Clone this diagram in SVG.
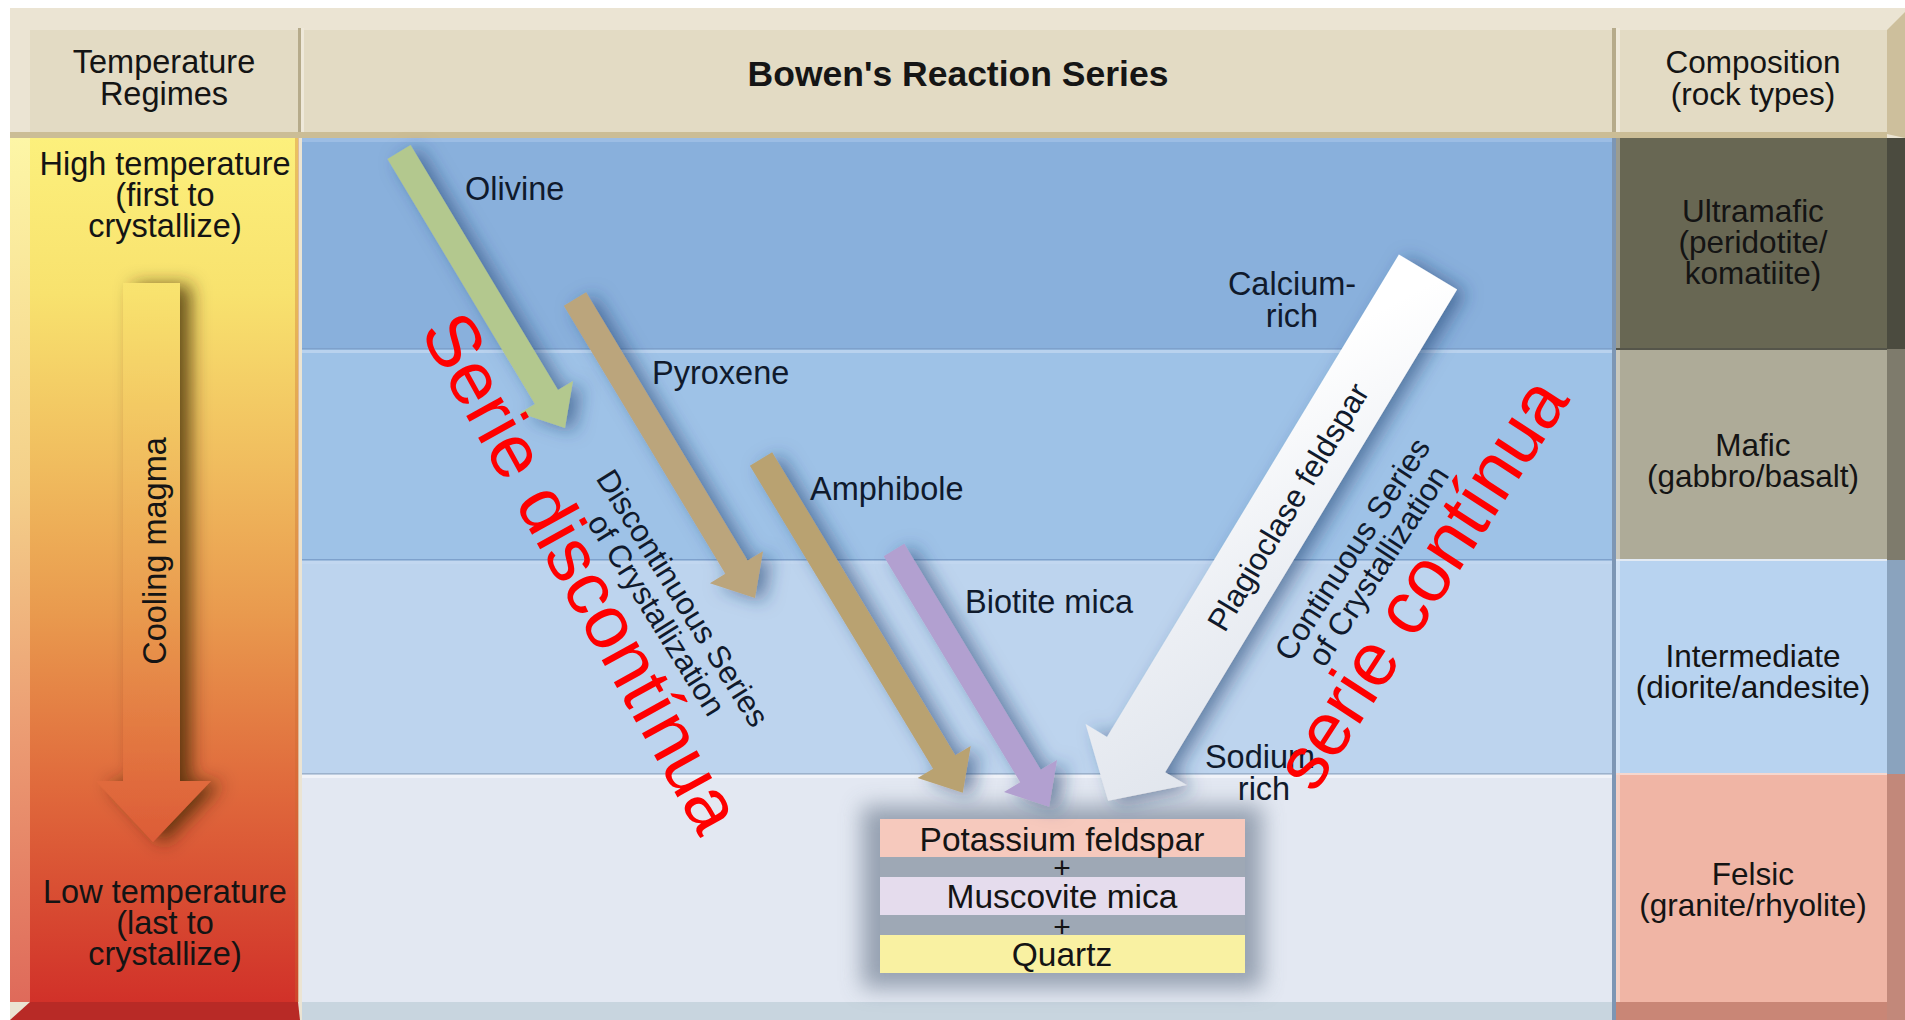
<svg xmlns="http://www.w3.org/2000/svg" width="1905" height="1020" viewBox="0 0 1905 1020">
<defs>
<style>
.t{font-family:"Liberation Sans",Arial,Helvetica,sans-serif;font-size:31.5px;fill:#141414}
.l{font-size:32.5px}
.c3{font-size:32.5px}
.b3{font-size:33.5px}
.m{text-anchor:middle}
.n{fill:#101a2c}
.ttl{font-family:"Liberation Sans",Arial,Helvetica,sans-serif;font-size:35.5px;font-weight:bold;fill:#151515;text-anchor:middle}
.red{font-family:"Liberation Sans",Arial,Helvetica,sans-serif;font-size:75px;fill:#ff0000;text-anchor:middle}
.hdr{fill:#e3dbc4}
.rowline{fill:#7ea1cc}
.rowlite{fill:#c4d9f1;opacity:.7}
</style>
<linearGradient id="gL" gradientUnits="userSpaceOnUse" x1="0" y1="138" x2="0" y2="1002">
<stop offset="0" stop-color="#fcf07c"/>
<stop offset=".18" stop-color="#f8e26e"/>
<stop offset=".38" stop-color="#f0bc5e"/>
<stop offset=".55" stop-color="#e99a4e"/>
<stop offset=".75" stop-color="#e06a3c"/>
<stop offset="1" stop-color="#d13129"/>
</linearGradient>
<linearGradient id="gL2" gradientUnits="userSpaceOnUse" x1="0" y1="138" x2="0" y2="1002">
<stop offset="0" stop-color="#fdf6a6"/>
<stop offset=".4" stop-color="#f4d08a"/>
<stop offset=".7" stop-color="#eb9a72"/>
<stop offset="1" stop-color="#df6a5a"/>
</linearGradient>
<linearGradient id="gW" gradientUnits="userSpaceOnUse" x1="1428" y1="272" x2="1108" y2="801">
<stop offset="0" stop-color="#d6dce6"/>
<stop offset=".5" stop-color="#eceff4"/>
<stop offset=".8" stop-color="#ffffff"/>
<stop offset="1" stop-color="#ffffff"/>
</linearGradient>
<filter id="sh" x="-25%" y="-25%" width="150%" height="150%">
<feGaussianBlur in="SourceAlpha" stdDeviation="9"/>
<feOffset dx="9" dy="3" result="b"/>
<feFlood flood-color="#1d3b6a" flood-opacity="0.55"/>
<feComposite in2="b" operator="in"/>
<feMerge><feMergeNode/><feMergeNode in="SourceGraphic"/></feMerge>
</filter>
<filter id="shB" x="-60%" y="-10%" width="220%" height="120%">
<feGaussianBlur in="SourceAlpha" stdDeviation="9"/>
<feOffset dx="11" dy="2" result="b"/>
<feFlood flood-color="#3a2406" flood-opacity="0.75"/>
<feComposite in2="b" operator="in"/>
<feMerge><feMergeNode/><feMergeNode in="SourceGraphic"/></feMerge>
</filter>
<filter id="blur" x="-20%" y="-30%" width="140%" height="160%">
<feGaussianBlur stdDeviation="11"/>
</filter>
</defs>

<!-- frame and background -->
<g id="background">
<rect width="1905" height="1020" fill="#ffffff"/>
<rect x="10" y="8" width="1895" height="1012" fill="#ebe4d3"/>
<rect class="hdr" x="30" y="30" width="268" height="104"/>
<rect class="hdr" x="304" y="30" width="1308" height="104"/>
<rect class="hdr" x="1620" y="30" width="267" height="104"/>
<rect x="298" y="28" width="3" height="108" fill="#b6ab8b"/>
<rect x="301" y="28" width="3" height="108" fill="#efe9da"/>
<rect x="1612" y="28" width="4" height="108" fill="#b6ab8b"/>
<rect x="1616" y="28" width="4" height="108" fill="#efe9da"/>
<polygon points="1887,30 1905,12 1905,138 1887,134" fill="#cdbf9c"/>
<rect x="10" y="132" width="1877" height="6" fill="#cbbd96"/>

<!-- left column -->
<rect x="30" y="138" width="268" height="864" fill="url(#gL)"/>
<rect x="10" y="138" width="20" height="864" fill="url(#gL2)"/>
<rect x="295" y="138" width="4" height="864" fill="#c86a30" opacity=".35"/>
<polygon points="10,1020 30,1002 298,1002 300,1020" fill="#b82a26"/>

<!-- central rows -->
<rect x="302" y="138" width="1311" height="211" fill="#89b0dc"/>
<rect x="302" y="349" width="1311" height="211" fill="#9ec2e7"/>
<rect x="302" y="560" width="1311" height="214" fill="#bdd4ee"/>
<rect x="302" y="774" width="1311" height="228" fill="#e3e8f2"/>
<rect x="302" y="1002" width="1311" height="18" fill="#c8d5df"/>
<rect class="rowline" x="302" y="348" width="1311" height="1.5"/>
<rect class="rowlite" x="302" y="350" width="1311" height="3"/>
<rect class="rowline" x="302" y="559" width="1311" height="1.5"/>
<rect class="rowlite" x="302" y="561" width="1311" height="3"/>
<rect x="302" y="773" width="1311" height="1.5" fill="#9cb2cc"/>
<rect x="302" y="775" width="1311" height="3" fill="#f2f5fa" opacity=".8"/>
<rect x="302" y="138" width="1311" height="4" fill="#a9c6ea" opacity=".6"/>

<!-- right column -->
<rect x="1612" y="138" width="4" height="882" fill="#7d96b4"/>
<rect x="1616" y="138" width="271" height="211" fill="#686753"/>
<rect x="1616" y="349" width="271" height="211" fill="#aeab98"/>
<rect x="1616" y="560" width="271" height="214" fill="#b8d3f0"/>
<rect x="1616" y="774" width="271" height="228" fill="#f0b5a5"/>
<rect x="1616" y="1002" width="271" height="18" fill="#c98676"/>
<rect x="1616" y="138" width="4" height="864" fill="#ffffff" opacity=".35"/>
<rect x="1887" y="138" width="18" height="211" fill="#4b4b3f"/>
<rect x="1887" y="349" width="18" height="211" fill="#7e7b6c"/>
<rect x="1887" y="560" width="18" height="214" fill="#8aa3be"/>
<rect x="1887" y="774" width="18" height="246" fill="#c2887a"/>
<rect x="1616" y="348" width="271" height="2" fill="#55554a"/>
<rect x="1616" y="559" width="271" height="2" fill="#e2eaf4"/>
<rect x="1616" y="773" width="271" height="2" fill="#f6d7ce"/>
</g>

<!-- header labels -->
<g id="header-temperature">
<text class="t l m" x="164" y="73">Temperature</text>
<text class="t l m" x="164" y="105">Regimes</text>
</g>
<g id="header-bowen">
<text class="ttl" x="958" y="86">Bowen's Reaction Series</text>
</g>
<g id="header-composition">
<text class="t m" x="1753" y="73">Composition</text>
<text class="t m" x="1753" y="105">(rock types)</text>
</g>

<!-- temperature column -->
<g id="temp-high">
<text class="t l m" x="165" y="175">High temperature</text>
<text class="t l m" x="165" y="206">(first to</text>
<text class="t l m" x="165" y="237">crystallize)</text>
</g>
<g id="cooling-magma">
<g filter="url(#shB)">
<path d="M123,283 H180 V781 H211 L153,842 L96,781 H123 Z" fill="url(#gL)"/>
</g>
<text class="t l m" transform="translate(166,551) rotate(-90)" x="0" y="0">Cooling magma</text>
</g>
<g id="temp-low">
<text class="t l m" x="165" y="903">Low temperature</text>
<text class="t l m" x="165" y="934">(last to</text>
<text class="t l m" x="165" y="965">crystallize)</text>
</g>

<!-- composition column -->
<g id="comp-ultramafic">
<text class="t m" x="1753" y="222">Ultramafic</text>
<text class="t m" x="1753" y="253">(peridotite/</text>
<text class="t m" x="1753" y="284">komatiite)</text>
</g>
<g id="comp-mafic">
<text class="t m" x="1753" y="456">Mafic</text>
<text class="t m" x="1753" y="487">(gabbro/basalt)</text>
</g>
<g id="comp-intermediate">
<text class="t m" x="1753" y="667">Intermediate</text>
<text class="t m" x="1753" y="698">(diorite/andesite)</text>
</g>
<g id="comp-felsic">
<text class="t m" x="1753" y="885">Felsic</text>
<text class="t m" x="1753" y="916">(granite/rhyolite)</text>
</g>

<!-- end products -->
<g id="end-products">
<rect x="862" y="806" width="400" height="182" fill="#7c899b" opacity=".75" filter="url(#blur)"/>
<rect x="880" y="855" width="365" height="82" fill="#9ea8b5"/>
<rect x="880" y="819" width="365" height="38" fill="#f6c9bd"/>
<rect x="880" y="877" width="365" height="38" fill="#e5dced"/>
<rect x="880" y="935" width="365" height="38" fill="#f9f1a2"/>
<text class="t b3 m" x="1062" y="851">Potassium feldspar</text>
<text class="t m" x="1062" y="878" style="font-size:30px">+</text>
<text class="t b3 m" x="1062" y="908">Muscovite mica</text>
<text class="t m" x="1062" y="937" style="font-size:30px">+</text>
<text class="t b3 m" x="1062" y="966">Quartz</text>
</g>

<!-- series arrows -->
<g id="connectors">
<g filter="url(#sh)"><path id="arrow-olivine" transform="translate(399,152) rotate(58.97)" d="M0,-13.5 H286 V-31 L322,0 L286,31 V13.5 H0 Z" fill="#b3c88e"/></g>
<g filter="url(#sh)"><path id="arrow-pyroxene" transform="translate(575,299) rotate(58.95)" d="M0,-13 H313 V-31 L349,0 L313,31 V13 H0 Z" fill="#bba57c"/></g>
<g filter="url(#sh)"><path id="arrow-amphibole" transform="translate(761,459) rotate(58.84)" d="M0,-13 H354 V-31 L390,0 L354,31 V13 H0 Z" fill="#b9a271"/></g>
<g filter="url(#sh)"><path id="arrow-biotite" transform="translate(894,550) rotate(58.87)" d="M0,-12 H264 V-31 L300,0 L264,31 V12 H0 Z" fill="#b2a0d0"/></g>
<g filter="url(#sh)"><path id="arrow-plagioclase" transform="translate(1428,272) rotate(121.17)" d="M0,-34 H564 V-59 L618,0 L564,59 V34 H0 Z" fill="url(#gW)"/></g>
</g>

<!-- mineral labels -->
<g id="label-olivine"><text class="t c3 n" x="465" y="200">Olivine</text></g>
<g id="label-pyroxene"><text class="t c3 n" x="652" y="384">Pyroxene</text></g>
<g id="label-amphibole"><text class="t c3 n" x="810" y="500">Amphibole</text></g>
<g id="label-biotite"><text class="t c3 n" x="965" y="613">Biotite mica</text></g>
<g id="label-calcium">
<text class="t c3 n m" x="1292" y="295">Calcium-</text>
<text class="t c3 n m" x="1292" y="327">rich</text>
</g>
<g id="label-sodium">
<text class="t c3 n m" x="1260" y="768">Sodium</text>
<text class="t c3 n m" x="1264" y="800">rich</text>
</g>
<g id="label-plagioclase">
<text class="t n m" transform="translate(1288,507) rotate(-59)" x="0" y="11">Plagioclase feldspar</text>
</g>
<g id="label-discontinuous" transform="translate(683,598) rotate(58)">
<text class="t n m" x="0" y="11">Discontinuous Series</text>
<text class="t n m" x="0" y="42">of Crystallization</text>
</g>
<g id="label-continuous" transform="translate(1352,549) rotate(-57)">
<text class="t n m" x="0" y="11">Continuous Series</text>
<text class="t n m" x="0" y="42">of Crystallization</text>
</g>

<!-- red annotations -->
<g id="annotation-discontinua">
<text class="red" transform="translate(579,574) rotate(61)" x="0" y="22">Serie discontínua</text>
</g>
<g id="annotation-continua">
<text class="red" transform="translate(1424,585) rotate(-57)" x="0" y="22">serie contínua</text>
</g>
</svg>
